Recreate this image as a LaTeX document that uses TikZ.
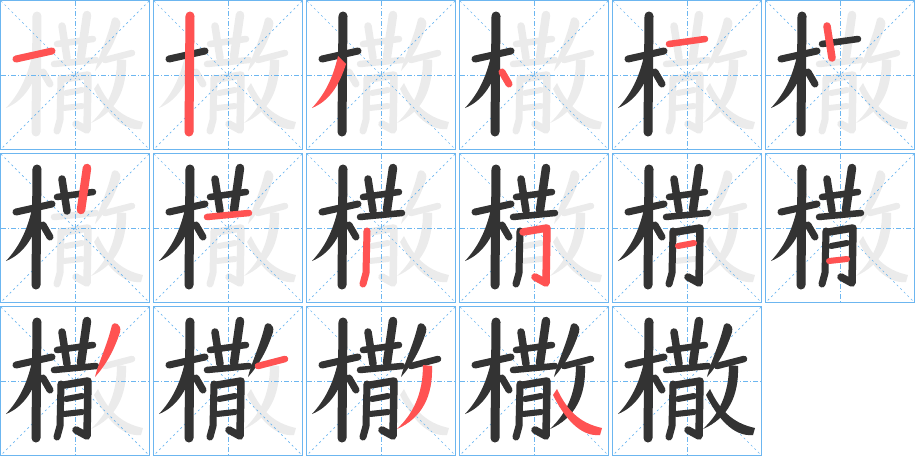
\documentclass[tikz,border=0pt]{standalone}
\definecolor{strokedone}{HTML}{333333}
\definecolor{strokenow}{HTML}{FF5252}
\definecolor{strokeghost}{HTML}{EBEBEB}
\definecolor{gridblue}{HTML}{6CB6F0}
\tikzset{
  pen/.style={line cap=round,line join=round},
  cellframe/.style={gridblue,line width=1.3},
  midline/.style={gridblue,line width=0.8,dash pattern=on 5pt off 2pt on 1pt off 2pt},
  diagline/.style={gridblue,line width=0.7,dash pattern=on 2pt off 3pt}
}
% one stroke of the character, in cell coordinates (150 x 150, y down)
\newcommand\drawstroke[2]{%
  \ifcase#1\or
    \draw[pen,#2,line width=7] (16,59) -- (52,51);
  \or
    \draw[pen,#2,line width=9] (37,16) -- (36.5,70) -- (36,132);
  \or
    \fill[#2] (32,56) .. controls (27,78) and (19,94) .. (6,108)
      .. controls (23,101) and (33,86) .. (40,64) -- cycle;
  \or
    \draw[pen,#2,line width=7] (43,72) -- (50,84);
  \or
    \draw[pen,#2,line width=6.5] (57,44) -- (93,39);
  \or
    \draw[pen,#2,line width=7.5] (62,26) -- (67,58);
  \or
    \draw[pen,#2,line width=8.5] (87,15) -- (81,57);
  \or
    \draw[pen,#2,line width=6.5] (54,64) -- (96,60);
  \or
    \draw[pen,#2,line width=7] (61,78) -- (60,120) -- (57,131);
  \or
    \draw[pen,#2,line width=7.5] (64,79) -- (88,75) -- (87,130) -- (76,124);
  \or
    \draw[pen,#2,line width=6] (66,93) -- (82,90);
  \or
    \draw[pen,#2,line width=6] (64,108) -- (82,106);
  \or
    \fill[#2] (112,19) .. controls (114,15) and (122,18) .. (120,26)
      .. controls (114,45) and (105,60) .. (95,71)
      .. controls (99,55) and (107,40) .. (112,19) -- cycle;
  \or
    \draw[pen,#2,line width=6.5] (105,60) -- (132,53);
  \or
    \fill[#2] (117,59) -- (126,60) .. controls (127,90) and (116,112) .. (91,123)
      .. controls (107,108) and (117,88) .. (117,59) -- cycle;
  \or
    \fill[#2] (98,83) .. controls (108,104) and (120,117) .. (143,122)
      -- (141,129) .. controls (121,131) and (105,111) .. (94,89) -- cycle;
  \fi}

\begin{document}
\begin{tikzpicture}[x=1pt,y=-1pt]
  \useasboundingbox (0,0) rectangle (915,456);
  \foreach \k in {1,...,17}{
    \pgfmathtruncatemacro\col{mod(\k-1,6)}
    \pgfmathtruncatemacro\row{div(\k-1,6)}
    \begin{scope}[shift={(153*\col,153*\row)}]
      \foreach \s in {1,...,16}{\drawstroke{\s}{strokeghost}}
      \draw[cellframe] (0.65,0.65) rectangle (149.35,149.35);
      \draw[midline] (75,1) -- (75,149);
      \draw[midline] (1,75) -- (149,75);
      \draw[diagline] (1,1) -- (149,149);
      \draw[diagline] (149,1) -- (1,149);
      \foreach \s in {1,...,16}{%
        \ifnum\s<\k \drawstroke{\s}{strokedone}\fi
        \ifnum\s=\k \drawstroke{\s}{strokenow}\fi}
    \end{scope}
  }
\end{tikzpicture}
\end{document}
